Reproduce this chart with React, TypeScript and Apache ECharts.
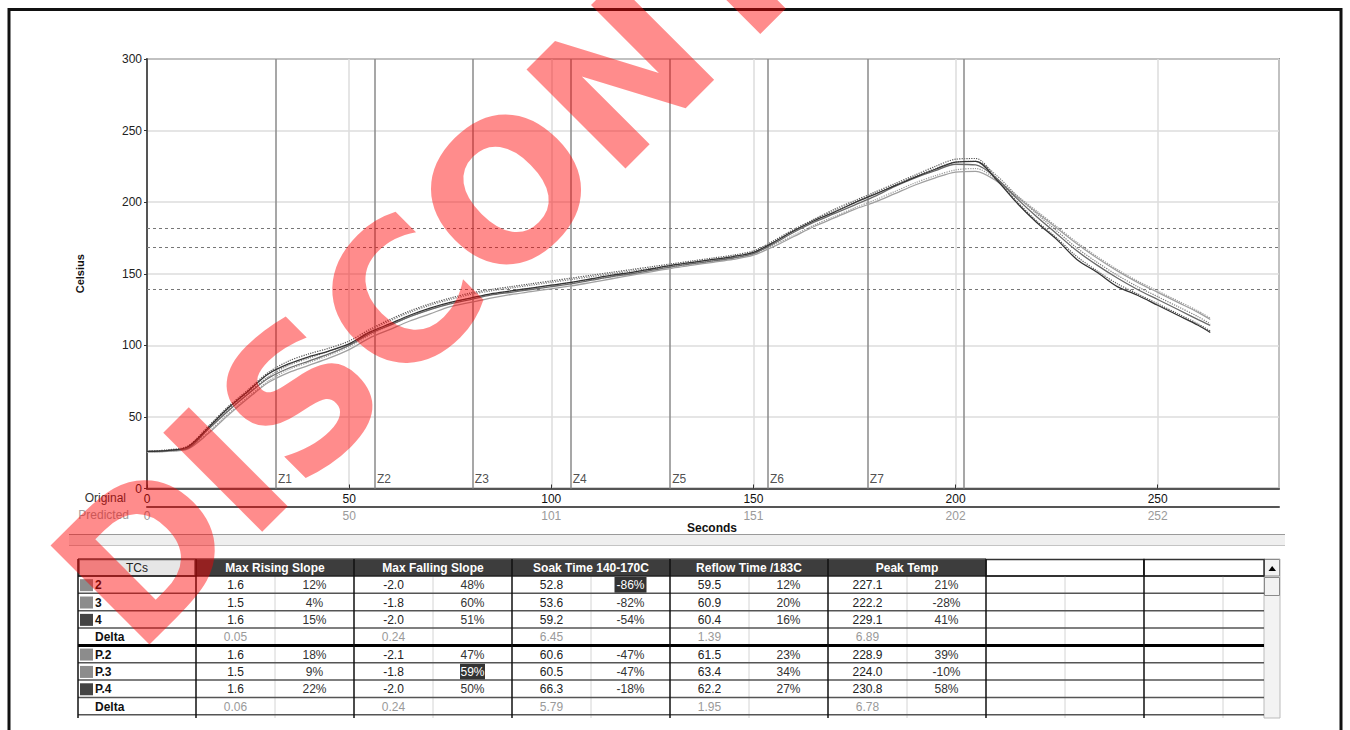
import React, { useEffect, useRef } from "react";
import * as echarts from "echarts";

// ---------- chart data ----------
const timeSec = [0, 5, 10, 15, 20, 25, 30, 35, 40, 45, 50, 55, 60, 65, 70, 75, 80, 85, 90, 95, 100, 105, 110, 115, 120, 125, 130, 135, 140, 145, 150, 155, 160, 165, 170, 175, 180, 185, 190, 195, 200, 205, 210, 215, 220, 225, 230, 235, 240, 245, 250, 255, 260, 263];

const tc2 = [26, 26.5, 28, 41, 54, 66, 77, 84, 89, 94, 100, 108, 114, 120, 125, 129, 132, 135, 137, 139, 141, 143, 145.5, 148, 150, 152.5, 155, 157, 159, 161, 164, 171, 179, 186, 192, 198, 204, 211, 217, 222, 226.5, 226, 217, 203, 190, 178, 166, 156, 147, 139, 132, 125, 118, 114];
const tc3 = [25.5, 26, 27.5, 38, 51, 63, 74, 81, 86, 91, 97, 105, 111, 117, 122, 127, 130, 133, 135.5, 137.5, 139.5, 141.5, 144, 146.5, 149, 151.5, 154, 156, 158, 160, 163, 169, 176, 183, 189, 195, 200, 206, 212, 217, 221, 221.5, 215, 204, 193, 182, 171, 161, 152, 144, 137, 130, 123, 118];
const tc4 = [26, 26.5, 29, 42, 56, 68, 80, 87, 92, 96, 101, 109, 115, 121, 126, 130, 133, 136, 138, 140, 142, 144, 146.5, 149, 151, 153.5, 156, 158, 160, 162, 165, 172, 180, 187, 193, 199.5, 205.5, 211.5, 217.5, 223, 228, 228.5, 216, 200, 186, 174, 160, 151, 141, 135, 128, 121, 114, 109];
const p2 = [26, 26.5, 28.5, 41, 55, 67, 78, 86, 91, 96, 101, 110, 117, 123, 128, 132, 135.5, 138, 140, 142, 144, 146, 148, 150, 152, 154, 156, 158, 160, 162, 165, 172, 180, 188, 194, 200, 206, 212, 218, 223.5, 228, 228.5, 219, 205, 192, 180, 168, 158, 149, 141, 134, 127, 120, 115];
const p3 = [25.5, 26, 28, 39, 52, 64, 75, 83, 88, 93, 99, 107, 114, 120, 125, 129.5, 133, 135.5, 138, 140, 142, 144, 146, 148, 150.5, 153, 155, 157, 159, 161, 164, 170, 177, 184, 190, 196, 201.5, 207.5, 213.5, 218.5, 222.5, 223.5, 216, 205, 194, 183, 172, 162, 153, 145, 138, 131, 124, 119];
const p4 = [26, 27, 29.5, 43, 57, 69, 81, 89, 94, 98, 103, 111, 118, 124, 129, 133, 136.5, 139, 141, 143, 145, 147, 149, 151, 153, 155, 157, 159, 161, 163, 166, 173, 181, 188, 195, 201, 207, 213, 219, 225, 230, 230.5, 217, 201, 187, 175, 162, 152, 143, 136, 129, 122, 115, 110];

const zoneNames = ["Z1", "Z2", "Z3", "Z4", "Z5", "Z6", "Z7"];
const zoneSec = [31.9, 56.4, 80.6, 104.8, 129.4, 153.6, 178.3];
const peakSec = 202.1;
const limitTemps = [139, 168.5, 181.5];

const originalTicks = [0, 50, 100, 150, 200, 250];
const predictedTicks = ["0", "50", "101", "151", "202", "252"];

// ---------- table data ----------
const tcLabels = ["2", "3", "4", "Delta", "P.2", "P.3", "P.4", "Delta"];
const tcSwatch = ["#8c8c8c", "#8c8c8c", "#444444", "", "#8c8c8c", "#8c8c8c", "#444444", ""];
const headers = ["Max Rising Slope", "Max Falling Slope", "Soak Time 140-170C", "Reflow Time /183C", "Peak Temp"];
const maxRising = ["1.6", "1.5", "1.6", "0.05", "1.6", "1.5", "1.6", "0.06"];
const maxRisingPct = ["12%", "4%", "15%", "", "18%", "9%", "22%", ""];
const maxFalling = ["-2.0", "-1.8", "-2.0", "0.24", "-2.1", "-1.8", "-2.0", "0.24"];
const maxFallingPct = ["48%", "60%", "51%", "", "47%", "59%", "50%", ""];
const soakTime = ["52.8", "53.6", "59.2", "6.45", "60.6", "60.5", "66.3", "5.79"];
const soakPct = ["-86%", "-82%", "-54%", "", "-47%", "-47%", "-18%", ""];
const reflowTime = ["59.5", "60.9", "60.4", "1.39", "61.5", "63.4", "62.2", "1.95"];
const reflowPct = ["12%", "20%", "16%", "", "23%", "34%", "27%", ""];
const peakTemp = ["227.1", "222.2", "229.1", "6.89", "228.9", "224.0", "230.8", "6.78"];
const peakPct = ["21%", "-28%", "41%", "", "39%", "-10%", "58%", ""];
const highlighted = [
  { group: 2, row: 0 },
  { group: 1, row: 5 },
];

const FONT = "'Liberation Sans', Arial, sans-serif";

function buildTable(): any[] {
  const els: any[] = [];
  const z = 10;
  const rect = (x: number, y: number, w: number, h: number, fill: string, stroke?: string, lw?: number) =>
    els.push({ type: "rect", silent: true, z, shape: { x, y, width: w, height: h }, style: { fill, stroke: stroke || null, lineWidth: lw || 0 } });
  const line = (x1: number, y1: number, x2: number, y2: number, stroke: string, lw: number) =>
    els.push({ type: "line", silent: true, z: z + 1, shape: { x1, y1, x2, y2 }, style: { stroke, lineWidth: lw } });
  const text = (x: number, y: number, t: string, fill: string, weight: string, align: string, zz = z + 2) =>
    els.push({ type: "text", silent: true, z: zz, x, y, style: { text: t, fill, fontSize: 12, fontWeight: weight, fontFamily: FONT, align, verticalAlign: "middle" } });

  const colEdges = [78, 196, 275, 354, 433, 512, 591, 670, 749, 828, 907, 986, 1065, 1144, 1223, 1264];
  const top = 559;
  const headBottom = 576;
  const rowH = 17.35;
  const bottom = 718;
  const rowTop = (i: number) => headBottom + i * rowH;

  // scrollbar
  rect(1264, top, 16, bottom - top, "#f3f3f3", "#bbbbbb", 1);
  rect(1264.5, top + 0.5, 15, 16.5, "#f2f2f2", "#8a8a8a", 1);
  els.push({ type: "polygon", silent: true, z: z + 3, shape: { points: [[1268.5, 571], [1276, 571], [1272.2, 566]] }, style: { fill: "#000" } });
  rect(1264.5, 577.5, 15, 18, "#f2f2f2", "#8a8a8a", 1);

  // header cells
  rect(79, top + 0.5, 116, 16.5, "#e6e6e6", "#555", 1.5);
  text(137, 567.5, "TCs", "#222", "normal", "center");
  for (let g = 0; g < headers.length; g++) {
    const x0 = colEdges[1 + 2 * g];
    const x1 = colEdges[3 + 2 * g];
    rect(x0, top, x1 - x0, headBottom - top, "#3d3d3d");
    text((x0 + x1) / 2, 567.5, headers[g], "#ffffff", "bold", "center");
  }
  rect(986, top + 0.5, 158, 16.5, "#ffffff", "#333", 1.5);
  rect(1144, top + 0.5, 120, 16.5, "#ffffff", "#333", 1.5);
  line(78, top, 986, top, "#555", 1.5);

  // sub-column light lines
  for (let k = 2; k <= 14; k += 2) line(colEdges[k], headBottom, colEdges[k], bottom, "#d4d4d4", 1);
  // row lines
  line(78, headBottom, 1264, headBottom, "#222", 1.5);
  for (let i = 1; i <= 8; i++) {
    const y = rowTop(i);
    if (i === 4) line(78, y, 1264, y, "#000", 3);
    else line(78, y, 1264, y, "#555", 1.5);
  }
  // major column lines
  for (let k = 0; k <= 13; k++) {
    if (k !== 0 && k % 2 === 0) continue;
    line(colEdges[k], top, colEdges[k], bottom, "#111", 1.5);
  }

  const groups = [
    [maxRising, maxRisingPct],
    [maxFalling, maxFallingPct],
    [soakTime, soakPct],
    [reflowTime, reflowPct],
    [peakTemp, peakPct],
  ];
  for (let r = 0; r < tcLabels.length; r++) {
    const cy = rowTop(r) + rowH / 2 + 0.5;
    const isDelta = tcLabels[r] === "Delta";
    if (tcSwatch[r]) rect(80, cy - 6, 13, 12, tcSwatch[r]);
    text(95, cy, tcLabels[r], "#111", "bold", "left");
    for (let g = 0; g < groups.length; g++) {
      const vx = (colEdges[1 + 2 * g] + colEdges[2 + 2 * g]) / 2;
      const px = (colEdges[2 + 2 * g] + colEdges[3 + 2 * g]) / 2;
      text(vx, cy, groups[g][0][r], isDelta ? "#9a9a9a" : "#222", "normal", "center");
      const pct = groups[g][1][r];
      if (!pct) continue;
      const hl = highlighted.some((h) => h.group === g && h.row === r);
      if (hl) {
        const w = pct.length * 7 + 4;
        rect(px - w / 2, rowTop(r) + 1, w, rowH - 1.5, "#333333");
        text(px, cy, pct, "#ffffff", "normal", "center", z + 4);
      } else {
        text(px, cy, pct, "#333", "normal", "center");
      }
    }
  }
  return els;
}

export default function App() {
  const ref = useRef<HTMLDivElement>(null);
  useEffect(() => {
    const chart = echarts.init(ref.current!, null, { renderer: "svg" });
    const pair = (arr: number[]) => timeSec.map((t, i) => [t, arr[i]]);
    const solid = (name: string, data: number[], color: string, width: number) => ({
      name,
      type: "line",
      data: pair(data),
      showSymbol: false,
      symbol: "none",
      smooth: 0.3,
      silent: true,
      lineStyle: { color, width },
      z: 5,
    });
    const dotted = (name: string, data: number[], color: string) => ({
      name,
      type: "line",
      data: pair(data),
      showSymbol: false,
      symbol: "none",
      smooth: 0.3,
      silent: true,
      lineStyle: { color, width: 1.2, type: "dotted" },
      z: 4,
    });

    const tc2Series: any = solid("2", tc2, "#6a6a6a", 1.3);
    tc2Series.markLine = {
      silent: true,
      symbol: "none",
      animation: false,
      label: { show: false },
      data: [
        ...zoneSec.map((v) => ({ xAxis: v, lineStyle: { color: "#8a8a8a", width: 1.5, type: "solid" } })),
        { xAxis: peakSec, lineStyle: { color: "#8a8a8a", width: 1.5, type: "solid" } },
        ...limitTemps.map((v) => ({ yAxis: v, lineStyle: { color: "#777", width: 1, type: [3, 3] } })),
      ],
    };

    const option: any = {
      animation: false,
      backgroundColor: "#ffffff",
      textStyle: { fontFamily: FONT },
      grid: { left: 147, top: 59, width: 1132, height: 429.5, show: true, borderColor: "#444", borderWidth: 1.5, backgroundColor: "transparent" },
      xAxis: [
        {
          type: "value",
          min: 0,
          max: 280,
          interval: 50,
          position: "bottom",
          axisLine: { show: true, lineStyle: { color: "#555", width: 2 } },
          axisTick: { show: true, inside: true, length: 4, lineStyle: { color: "#333" } },
          axisLabel: {
            color: "#111",
            fontSize: 12,
            margin: 4,
            showMaxLabel: false,
            formatter: (v: number) => (originalTicks.indexOf(v) >= 0 ? String(v) : ""),
          },
          splitLine: { show: true, lineStyle: { color: "#dcdcdc", width: 1.5 } },
        },
        {
          type: "value",
          min: 0,
          max: 280,
          interval: 50,
          position: "bottom",
          offset: 18,
          axisLine: { show: true, lineStyle: { color: "#555", width: 2 } },
          axisTick: { show: false },
          axisLabel: {
            color: "#9a9a9a",
            fontSize: 12,
            margin: 3,
            showMaxLabel: false,
            formatter: (v: number) => {
              const i = originalTicks.indexOf(v);
              return i >= 0 ? predictedTicks[i] : "";
            },
          },
          splitLine: { show: false },
        },
      ],
      yAxis: {
        type: "value",
        min: 0,
        max: 300,
        interval: 50,
        name: "Celsius",
        nameLocation: "middle",
        nameRotate: 90,
        nameGap: 62,
        nameTextStyle: { color: "#111", fontSize: 11, fontWeight: "bold", fontFamily: FONT },
        axisLine: { show: true, lineStyle: { color: "#555", width: 2 } },
        axisTick: { show: true, inside: false, length: 3, lineStyle: { color: "#333" } },
        axisLabel: { color: "#222", fontSize: 12, margin: 5 },
        splitLine: { show: true, lineStyle: { color: "#dcdcdc", width: 1.5 } },
      },
      series: [
        dotted("P.3", p3, "#9a9a9a"),
        dotted("P.2", p2, "#7a7a7a"),
        dotted("P.4", p4, "#555555"),
        solid("3", tc3, "#a0a0a0", 1.3),
        tc2Series,
        solid("4", tc4, "#333333", 1.3),
        {
          name: "zones",
          type: "scatter",
          silent: true,
          symbolSize: 0,
          data: zoneSec.map((v, i) => ({ value: [v, 0], name: zoneNames[i] })),
          label: {
            show: true,
            position: "right",
            distance: 2,
            offset: [0, -10],
            formatter: (p: any) => p.name,
            color: "#222",
            fontSize: 12,
            fontFamily: FONT,
          },
          z: 6,
        },
      ],
      graphic: [
        { type: "rect", silent: true, z: 0, shape: { x: 9, y: 9.5, width: 1332, height: 760 }, style: { fill: "none", stroke: "#111", lineWidth: 3 } },
        { type: "text", silent: true, z: 3, x: 126, y: 497.5, style: { text: "Original", fill: "#333", fontSize: 12, fontFamily: FONT, align: "right", verticalAlign: "middle" } },
        { type: "text", silent: true, z: 3, x: 129, y: 514.5, style: { text: "Predicted", fill: "#a0a0a0", fontSize: 12, fontFamily: FONT, align: "right", verticalAlign: "middle" } },
        { type: "text", silent: true, z: 3, x: 712, y: 528, style: { text: "Seconds", fill: "#111", fontSize: 12, fontWeight: "bold", fontFamily: FONT, align: "center", verticalAlign: "middle" } },
        { type: "line", silent: true, z: 3, shape: { x1: 69, y1: 534.5, x2: 1285, y2: 534.5 }, style: { stroke: "#9a9a9a", lineWidth: 1 } },
        { type: "rect", silent: true, z: 3, shape: { x: 69, y: 535, width: 1216, height: 10 }, style: { fill: "#efefef" } },
        { type: "line", silent: true, z: 3, shape: { x1: 69, y1: 545.5, x2: 1285, y2: 545.5 }, style: { stroke: "#c4c4c4", lineWidth: 1 } },
        ...buildTable(),
        {
          type: "text",
          silent: true,
          z: 100,
          x: 671,
          y: 29,
          rotation: Math.PI / 4,
          style: { text: "DISCONTINUED", fill: "rgba(255,0,0,0.45)", fontSize: 192, fontWeight: "bold", fontFamily: "'DejaVu Sans', sans-serif", align: "center", verticalAlign: "middle" },
        },
      ],
    };
    chart.setOption(option);
    return () => chart.dispose();
  }, []);
  return <div ref={ref} style={{ position: "fixed", left: 0, top: 0, width: 1350, height: 730, background: "#fff" }} />;
}
